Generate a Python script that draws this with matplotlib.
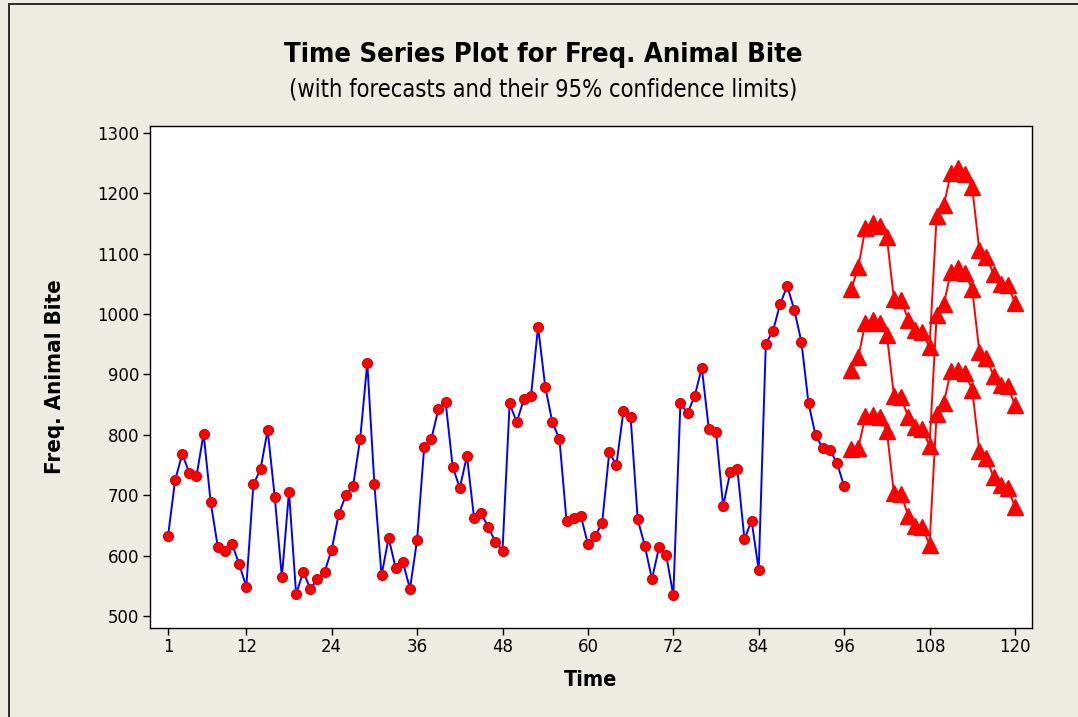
import matplotlib
matplotlib.use("Agg")
import matplotlib.pyplot as plt
from matplotlib import font_manager
from matplotlib.patches import Rectangle

# ---------------- data ----------------
time_obs = list(range(1, 97))
bites = [632, 725, 768, 737, 731, 802, 688, 614, 607, 619, 586, 548,
         718, 743, 808, 697, 564, 706, 536, 573, 545, 561, 573, 610,
         669, 700, 715, 793, 919, 718, 567, 629, 579, 589, 545, 626,
         780, 793, 843, 855, 747, 712, 765, 663, 670, 647, 623, 608,
         852, 821, 859, 864, 979, 880, 821, 793, 657, 663, 666, 619,
         632, 654, 771, 750, 840, 830, 660, 616, 561, 614, 601, 534,
         852, 836, 864, 911, 809, 805, 682, 738, 743, 627, 658, 576,
         951, 972, 1016, 1047, 1007, 954, 852, 799, 778, 775, 753, 715]

time_fc = list(range(97, 121))
forecast = [908, 929, 986, 991, 986, 966, 865, 862, 830, 813, 809, 782,
            998, 1016, 1070, 1076, 1068, 1041, 938, 927, 898, 883, 881, 849]
upper = [1041, 1078, 1143, 1151, 1146, 1128, 1025, 1023, 991, 974, 971, 945,
         1162, 1180, 1233, 1242, 1232, 1210, 1106, 1095, 1066, 1050, 1048, 1019]
lower = [776, 779, 831, 833, 830, 807, 703, 702, 666, 649, 647, 618,
         835, 852, 906, 908, 902, 875, 773, 761, 730, 717, 712, 681]

x_ticks = [1, 12, 24, 36, 48, 60, 72, 84, 96, 108, 120]
y_ticks = [500, 600, 700, 800, 900, 1000, 1100, 1200, 1300]

title = "Time Series Plot for Freq. Animal Bite"
subtitle = "(with forecasts and their 95% confidence limits)"
x_label = "Time"
y_label = "Freq. Animal Bite"

# ---------------- font ----------------
avail = {f.name for f in font_manager.fontManager.ttflist}
cond = {f.name for f in font_manager.fontManager.ttflist
        if str(f.stretch) in ("condensed", "semi-condensed", "75", "87")}
if "Liberation Sans Narrow" in avail:
    FONT = ["Liberation Sans Narrow", "DejaVu Sans"]
    STRETCH = "normal"
elif "DejaVu Sans" in cond:
    FONT = ["DejaVu Sans"]
    STRETCH = "condensed"
else:
    FONT = ["Liberation Sans", "DejaVu Sans"]
    STRETCH = "normal"
plt.rcParams["font.family"] = FONT
plt.rcParams["font.stretch"] = STRETCH

BG = "#EEEBE2"
W, H = 1078, 717
fig = plt.figure(figsize=(W / 100, H / 100), dpi=100, facecolor=BG)

# outer frame (top & left visible)
fig.patches.append(Rectangle((9 / W, -0.1), 1.2, 1 - 4 / H + 0.1,
                             transform=fig.transFigure, fill=False,
                             edgecolor="#2a2a2a", linewidth=1.4))

ax = fig.add_axes([150 / W, 1 - 628 / H, (1032 - 150) / W, (628 - 126) / H])
ax.set_facecolor("white")

ax.plot(time_obs, bites, color="#0000FF", linewidth=1.4, zorder=2)
ax.plot(time_obs, bites, linestyle="none", marker="o", markersize=7,
        markerfacecolor="#FF0000", markeredgecolor="#E00000", zorder=3)

for series in (upper, forecast, lower):
    ax.plot(time_fc, series, color="#FF0000", linewidth=1.4,
            marker="^", markersize=11, markerfacecolor="#FF0000",
            markeredgecolor="#FF0000", zorder=3)

ax.set_xlim(-1.53, 122.4)
ax.set_ylim(480, 1311.6)
ax.set_xticks(x_ticks)
ax.set_yticks(y_ticks)
ax.tick_params(direction="out", length=5, width=1, labelsize=13.2,
               colors="black", pad=2.5)
for s in ax.spines.values():
    s.set_linewidth(1.0)
    s.set_color("black")

ax.set_xlabel(x_label, fontsize=15.5, fontweight="bold", va="center")
ax.xaxis.set_label_coords(0.5, (628 - 680) / 502)
ax.set_ylabel(y_label, fontsize=16, fontweight="bold", va="center")
ax.yaxis.set_label_coords((55 - 150) / 882, 0.5)

fig.text(0.5035, 1 - 55 / H, title, ha="center", va="center",
         fontsize=19.6, fontweight="bold")
fig.text(0.5035, 1 - 89 / H, subtitle, ha="center", va="center",
         fontsize=17)

fig.savefig("out.png", dpi=100, facecolor=BG)
